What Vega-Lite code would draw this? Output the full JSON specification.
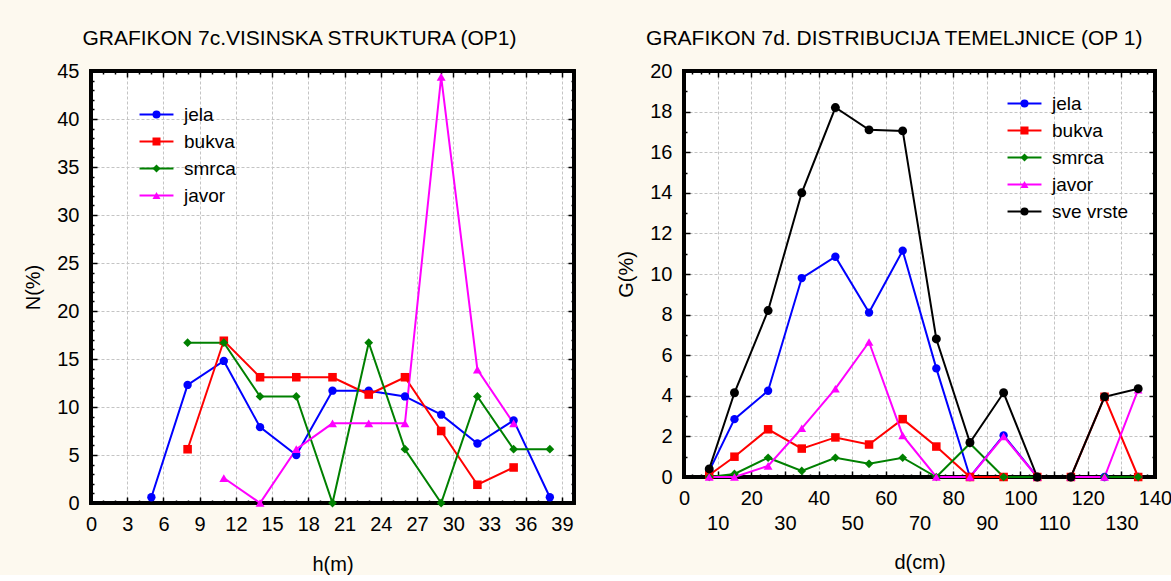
{
  "$schema": "https://vega.github.io/schema/vega-lite/v6.json",
  "background": "#FDF9EF",
  "padding": {"left": 22, "top": 27, "right": 0, "bottom": 0},
  "spacing": 38,
  "config": {
    "font": "Liberation Sans",
    "view": {"stroke": "#000000", "strokeWidth": 2, "fill": "white"},
    "axis": {
      "labelFont": "Liberation Sans", "labelFontSize": 20, "labelColor": "black",
      "titleFont": "Liberation Sans", "titleFontSize": 20, "titleFontWeight": "normal", "titleColor": "black",
      "domain": true, "domainColor": "#000000", "domainWidth": 3,
      "ticks": true, "tickColor": "#000000", "tickWidth": 1.5,
      "gridColor": "#c4c4c4", "gridDash": [3, 2], "gridWidth": 1,
      "labelOverlap": false, "labelFlush": false, "labelBound": false
    },
    "legend": {
      "labelFont": "Liberation Sans", "labelFontSize": 19, "labelColor": "black",
      "rowPadding": 7, "padding": 0
    },
    "title": {"font": "Liberation Sans", "fontSize": 21, "fontWeight": "normal", "color": "black", "anchor": "middle", "frame": "bounds", "offset": 12}
  },
  "datasets": {
    "vis": [
      {"h": 5, "vrsta": "jela", "N": 0.6}, {"h": 8, "vrsta": "jela", "N": 12.3}, {"h": 11, "vrsta": "jela", "N": 14.8},
      {"h": 14, "vrsta": "jela", "N": 7.9}, {"h": 17, "vrsta": "jela", "N": 5.0}, {"h": 20, "vrsta": "jela", "N": 11.7},
      {"h": 23, "vrsta": "jela", "N": 11.7}, {"h": 26, "vrsta": "jela", "N": 11.1}, {"h": 29, "vrsta": "jela", "N": 9.2},
      {"h": 32, "vrsta": "jela", "N": 6.2}, {"h": 35, "vrsta": "jela", "N": 8.6}, {"h": 38, "vrsta": "jela", "N": 0.6},
      {"h": 8, "vrsta": "bukva", "N": 5.6}, {"h": 11, "vrsta": "bukva", "N": 16.9}, {"h": 14, "vrsta": "bukva", "N": 13.1},
      {"h": 17, "vrsta": "bukva", "N": 13.1}, {"h": 20, "vrsta": "bukva", "N": 13.1}, {"h": 23, "vrsta": "bukva", "N": 11.3},
      {"h": 26, "vrsta": "bukva", "N": 13.1}, {"h": 29, "vrsta": "bukva", "N": 7.5}, {"h": 32, "vrsta": "bukva", "N": 1.9},
      {"h": 35, "vrsta": "bukva", "N": 3.7},
      {"h": 8, "vrsta": "smrca", "N": 16.7}, {"h": 11, "vrsta": "smrca", "N": 16.7}, {"h": 14, "vrsta": "smrca", "N": 11.1},
      {"h": 17, "vrsta": "smrca", "N": 11.1}, {"h": 20, "vrsta": "smrca", "N": 0}, {"h": 23, "vrsta": "smrca", "N": 16.7},
      {"h": 26, "vrsta": "smrca", "N": 5.6}, {"h": 29, "vrsta": "smrca", "N": 0}, {"h": 32, "vrsta": "smrca", "N": 11.1},
      {"h": 35, "vrsta": "smrca", "N": 5.6}, {"h": 38, "vrsta": "smrca", "N": 5.6},
      {"h": 11, "vrsta": "javor", "N": 2.6}, {"h": 14, "vrsta": "javor", "N": 0}, {"h": 17, "vrsta": "javor", "N": 5.6},
      {"h": 20, "vrsta": "javor", "N": 8.3}, {"h": 23, "vrsta": "javor", "N": 8.3}, {"h": 26, "vrsta": "javor", "N": 8.3},
      {"h": 29, "vrsta": "javor", "N": 44.4}, {"h": 32, "vrsta": "javor", "N": 13.9}, {"h": 35, "vrsta": "javor", "N": 8.3}
    ],
    "tem": [
      {"d": 7.5, "vrsta": "jela", "G": 0.3}, {"d": 15, "vrsta": "jela", "G": 2.85}, {"d": 25, "vrsta": "jela", "G": 4.25},
      {"d": 35, "vrsta": "jela", "G": 9.8}, {"d": 45, "vrsta": "jela", "G": 10.85}, {"d": 55, "vrsta": "jela", "G": 8.1},
      {"d": 65, "vrsta": "jela", "G": 11.15}, {"d": 75, "vrsta": "jela", "G": 5.35}, {"d": 85, "vrsta": "jela", "G": 0},
      {"d": 95, "vrsta": "jela", "G": 2.05}, {"d": 105, "vrsta": "jela", "G": 0}, {"d": 115, "vrsta": "jela", "G": 0},
      {"d": 125, "vrsta": "jela", "G": 0}, {"d": 135, "vrsta": "jela", "G": 0},
      {"d": 7.5, "vrsta": "bukva", "G": 0.1}, {"d": 15, "vrsta": "bukva", "G": 1.0}, {"d": 25, "vrsta": "bukva", "G": 2.35},
      {"d": 35, "vrsta": "bukva", "G": 1.4}, {"d": 45, "vrsta": "bukva", "G": 1.95}, {"d": 55, "vrsta": "bukva", "G": 1.6},
      {"d": 65, "vrsta": "bukva", "G": 2.85}, {"d": 75, "vrsta": "bukva", "G": 1.5}, {"d": 85, "vrsta": "bukva", "G": 0},
      {"d": 95, "vrsta": "bukva", "G": 0}, {"d": 105, "vrsta": "bukva", "G": 0}, {"d": 115, "vrsta": "bukva", "G": 0},
      {"d": 125, "vrsta": "bukva", "G": 3.95}, {"d": 135, "vrsta": "bukva", "G": 0},
      {"d": 7.5, "vrsta": "smrca", "G": 0}, {"d": 15, "vrsta": "smrca", "G": 0.15}, {"d": 25, "vrsta": "smrca", "G": 0.95},
      {"d": 35, "vrsta": "smrca", "G": 0.3}, {"d": 45, "vrsta": "smrca", "G": 0.95}, {"d": 55, "vrsta": "smrca", "G": 0.65},
      {"d": 65, "vrsta": "smrca", "G": 0.95}, {"d": 75, "vrsta": "smrca", "G": 0}, {"d": 85, "vrsta": "smrca", "G": 1.65},
      {"d": 95, "vrsta": "smrca", "G": 0}, {"d": 105, "vrsta": "smrca", "G": 0}, {"d": 115, "vrsta": "smrca", "G": 0},
      {"d": 125, "vrsta": "smrca", "G": 0}, {"d": 135, "vrsta": "smrca", "G": 0},
      {"d": 7.5, "vrsta": "javor", "G": 0}, {"d": 15, "vrsta": "javor", "G": 0}, {"d": 25, "vrsta": "javor", "G": 0.55},
      {"d": 35, "vrsta": "javor", "G": 2.4}, {"d": 45, "vrsta": "javor", "G": 4.35}, {"d": 55, "vrsta": "javor", "G": 6.65},
      {"d": 65, "vrsta": "javor", "G": 2.05}, {"d": 75, "vrsta": "javor", "G": 0}, {"d": 85, "vrsta": "javor", "G": 0},
      {"d": 95, "vrsta": "javor", "G": 2.0}, {"d": 105, "vrsta": "javor", "G": 0}, {"d": 115, "vrsta": "javor", "G": 0},
      {"d": 125, "vrsta": "javor", "G": 0}, {"d": 135, "vrsta": "javor", "G": 4.3},
      {"d": 7.5, "vrsta": "sve vrste", "G": 0.4}, {"d": 15, "vrsta": "sve vrste", "G": 4.15}, {"d": 25, "vrsta": "sve vrste", "G": 8.2},
      {"d": 35, "vrsta": "sve vrste", "G": 14.0}, {"d": 45, "vrsta": "sve vrste", "G": 18.2}, {"d": 55, "vrsta": "sve vrste", "G": 17.1},
      {"d": 65, "vrsta": "sve vrste", "G": 17.05}, {"d": 75, "vrsta": "sve vrste", "G": 6.8}, {"d": 85, "vrsta": "sve vrste", "G": 1.7},
      {"d": 95, "vrsta": "sve vrste", "G": 4.15}, {"d": 105, "vrsta": "sve vrste", "G": 0}, {"d": 115, "vrsta": "sve vrste", "G": 0},
      {"d": 125, "vrsta": "sve vrste", "G": 3.95}, {"d": 135, "vrsta": "sve vrste", "G": 4.35}
    ]
  },
  "resolve": {
    "scale": {"stroke": "independent", "fill": "independent", "shape": "independent", "size": "independent"},
    "legend": {"stroke": "independent", "fill": "independent", "shape": "independent"}
  },
  "hconcat": [
    {
      "title": "GRAFIKON 7c.VISINSKA STRUKTURA (OP1)",
      "width": 483, "height": 432,
      "data": {"name": "vis"},
      "resolve": {
        "axis": {"x": "independent", "y": "independent"},
        "legend": {"stroke": "independent", "fill": "independent", "shape": "independent"}
      },
      "layer": [
        {
          "mark": {"type": "rect", "fill": "transparent", "stroke": "#000000", "strokeWidth": 2.5},
          "encoding": {
            "x": {"datum": 0, "type": "quantitative", "axis": null},
            "x2": {"datum": 40},
            "y": {"datum": 0, "type": "quantitative", "axis": null},
            "y2": {"datum": 45}
          }
        },
        {
          "mark": {"type": "line", "strokeWidth": 2},
          "encoding": {
            "x": {"field": "h", "type": "quantitative", "scale": {"domain": [0, 40], "nice": false, "zero": false},
              "axis": {"orient": "bottom", "title": "h(m)", "domainColor": "#000000", "domainWidth": 3,
                "values": [0,1,2,3,4,5,6,7,8,9,10,11,12,13,14,15,16,17,18,19,20,21,22,23,24,25,26,27,28,29,30,31,32,33,34,35,36,37,38,39,40],
                "labelExpr": "datum.value % 3 === 0 && datum.value < 40 ? datum.label : ''",
                "grid": true,
                "gridOpacity": {"condition": {"test": "datum.value % 3 === 0 && datum.value > 0 && datum.value < 40", "value": 1}, "value": 0},
                "tickSize": {"condition": {"test": "datum.value % 3 === 0", "value": -6}, "value": -3},
                "labelPadding": 17, "titlePadding": 17}},
            "y": {"field": "N", "type": "quantitative", "scale": {"domain": [0, 45], "nice": false},
              "axis": {"orient": "left", "title": "N(%)", "domainColor": "#000000", "domainWidth": 3,
                "values": [0,1,2,3,4,5,6,7,8,9,10,11,12,13,14,15,16,17,18,19,20,21,22,23,24,25,26,27,28,29,30,31,32,33,34,35,36,37,38,39,40,41,42,43,44,45],
                "labelExpr": "datum.value % 5 === 0 ? datum.label : ''",
                "grid": true,
                "gridOpacity": {"condition": {"test": "datum.value % 5 === 0 && datum.value > 0 && datum.value < 45", "value": 1}, "value": 0},
                "tickSize": {"condition": {"test": "datum.value % 5 === 0", "value": -6}, "value": -3},
                "labelPadding": 18, "titlePadding": 13}},
            "stroke": {"field": "vrsta", "type": "nominal",
              "scale": {"domain": ["jela", "bukva", "smrca", "javor"], "range": ["#0000FF", "#FF0000", "#008000", "#FF00FF"]},
              "legend": {"orient": "none", "legendX": 56, "legendY": 34, "title": null,
                "symbolType": "M-4,0H4", "symbolSize": 72, "symbolStrokeWidth": 2, "labelOffset": 18}}
          }
        },
        {
          "mark": {"type": "point", "filled": true, "opacity": 1},
          "encoding": {
            "x": {"field": "h", "type": "quantitative",
              "axis": {"orient": "top", "title": null, "labels": false, "grid": false, "domainColor": "#000000", "domainWidth": 3,
                "values": [0,1,2,3,4,5,6,7,8,9,10,11,12,13,14,15,16,17,18,19,20,21,22,23,24,25,26,27,28,29,30,31,32,33,34,35,36,37,38,39,40],
                "tickSize": {"condition": {"test": "datum.value % 3 === 0", "value": -6}, "value": -3}}},
            "y": {"field": "N", "type": "quantitative",
              "axis": {"orient": "right", "title": null, "labels": false, "grid": false, "domainColor": "#000000", "domainWidth": 3,
                "values": [0,1,2,3,4,5,6,7,8,9,10,11,12,13,14,15,16,17,18,19,20,21,22,23,24,25,26,27,28,29,30,31,32,33,34,35,36,37,38,39,40,41,42,43,44,45],
                "tickSize": {"condition": {"test": "datum.value % 5 === 0", "value": -6}, "value": -3}}},
            "fill": {"field": "vrsta", "type": "nominal",
              "scale": {"domain": ["jela", "bukva", "smrca", "javor"], "range": ["#0000FF", "#FF0000", "#008000", "#FF00FF"]},
              "legend": {"orient": "none", "legendX": 56, "legendY": 34, "title": null, "symbolSize": 64, "symbolStrokeWidth": 0, "labelOpacity": 0, "labelOffset": 18}},
            "shape": {"field": "vrsta", "type": "nominal",
              "scale": {"domain": ["jela", "bukva", "smrca", "javor"], "range": ["circle", "square", "diamond", "triangle-up"]}},
            "size": {"field": "vrsta", "type": "nominal",
              "scale": {"domain": ["jela", "bukva", "smrca", "javor"], "range": [70, 80, 50, 90]}, "legend": null}
          }
        }
      ]
    },
    {
      "title": "GRAFIKON 7d. DISTRIBUCIJA TEMELJNICE (OP 1)",
      "width": 471, "height": 406,
      "data": {"name": "tem"},
      "resolve": {
        "axis": {"x": "independent", "y": "independent"},
        "legend": {"stroke": "independent", "fill": "independent", "shape": "independent"}
      },
      "layer": [
        {
          "mark": {"type": "rect", "fill": "transparent", "stroke": "#000000", "strokeWidth": 2.5},
          "encoding": {
            "x": {"datum": 0, "type": "quantitative", "axis": null},
            "x2": {"datum": 140},
            "y": {"datum": 0, "type": "quantitative", "axis": null},
            "y2": {"datum": 20}
          }
        },
        {
          "mark": {"type": "line", "strokeWidth": 2},
          "encoding": {
            "x": {"field": "d", "type": "quantitative", "scale": {"domain": [0, 140], "nice": false, "zero": false},
              "axis": {"orient": "bottom", "title": "d(cm)", "domainColor": "#000000", "domainWidth": 3,
                "values": [0,2.5,5,7.5,10,12.5,15,17.5,20,22.5,25,27.5,30,32.5,35,37.5,40,42.5,45,47.5,50,52.5,55,57.5,60,62.5,65,67.5,70,72.5,75,77.5,80,82.5,85,87.5,90,92.5,95,97.5,100,102.5,105,107.5,110,112.5,115,117.5,120,122.5,125,127.5,130,132.5,135,137.5,140],
                "labelExpr": "datum.value % 20 === 0 ? datum.label : (datum.value % 10 === 0 ? ['', datum.label] : '')",
                "labelLineHeight": 25,
                "grid": true,
                "gridOpacity": {"condition": {"test": "datum.value % 10 === 0 && datum.value > 0 && datum.value < 140", "value": 1}, "value": 0},
                "tickSize": {"condition": {"test": "datum.value % 10 === 0", "value": -6}, "value": -3},
                "labelPadding": 17, "titlePadding": 19}},
            "y": {"field": "G", "type": "quantitative", "scale": {"domain": [0, 20], "nice": false},
              "axis": {"orient": "left", "title": "G(%)", "domainColor": "#000000", "domainWidth": 3,
                "values": [0,1,2,3,4,5,6,7,8,9,10,11,12,13,14,15,16,17,18,19,20],
                "labelExpr": "datum.value % 2 === 0 ? datum.label : ''",
                "grid": true,
                "gridOpacity": {"condition": {"test": "datum.value % 2 === 0 && datum.value > 0 && datum.value < 20", "value": 1}, "value": 0},
                "tickSize": {"condition": {"test": "datum.value % 2 === 0", "value": -6}, "value": -3},
                "labelPadding": 18, "titlePadding": 13}},
            "stroke": {"field": "vrsta", "type": "nominal",
              "scale": {"domain": ["jela", "bukva", "smrca", "javor", "sve vrste"], "range": ["#0000FF", "#FF0000", "#008000", "#FF00FF", "#000000"]},
              "legend": {"orient": "none", "legendX": 331, "legendY": 23, "title": null,
                "symbolType": "M-4,0H4", "symbolSize": 72, "symbolStrokeWidth": 2, "labelOffset": 18}}
          }
        },
        {
          "mark": {"type": "point", "filled": true, "opacity": 1},
          "encoding": {
            "x": {"field": "d", "type": "quantitative",
              "axis": {"orient": "top", "title": null, "labels": false, "grid": false, "domainColor": "#000000", "domainWidth": 3,
                "values": [0,2.5,5,7.5,10,12.5,15,17.5,20,22.5,25,27.5,30,32.5,35,37.5,40,42.5,45,47.5,50,52.5,55,57.5,60,62.5,65,67.5,70,72.5,75,77.5,80,82.5,85,87.5,90,92.5,95,97.5,100,102.5,105,107.5,110,112.5,115,117.5,120,122.5,125,127.5,130,132.5,135,137.5,140],
                "tickSize": {"condition": {"test": "datum.value % 10 === 0", "value": -6}, "value": -3}}},
            "y": {"field": "G", "type": "quantitative",
              "axis": {"orient": "right", "title": null, "labels": false, "grid": false, "domainColor": "#000000", "domainWidth": 3,
                "values": [0,1,2,3,4,5,6,7,8,9,10,11,12,13,14,15,16,17,18,19,20],
                "tickSize": {"condition": {"test": "datum.value % 2 === 0", "value": -6}, "value": -3}}},
            "fill": {"field": "vrsta", "type": "nominal",
              "scale": {"domain": ["jela", "bukva", "smrca", "javor", "sve vrste"], "range": ["#0000FF", "#FF0000", "#008000", "#FF00FF", "#000000"]},
              "legend": {"orient": "none", "legendX": 331, "legendY": 23, "title": null, "symbolSize": 64, "symbolStrokeWidth": 0, "labelOpacity": 0, "labelOffset": 18}},
            "shape": {"field": "vrsta", "type": "nominal",
              "scale": {"domain": ["jela", "bukva", "smrca", "javor", "sve vrste"], "range": ["circle", "square", "diamond", "triangle-up", "circle"]}},
            "size": {"field": "vrsta", "type": "nominal",
              "scale": {"domain": ["jela", "bukva", "smrca", "javor", "sve vrste"], "range": [70, 80, 50, 90, 55]}, "legend": null}
          }
        }
      ]
    }
  ]
}
